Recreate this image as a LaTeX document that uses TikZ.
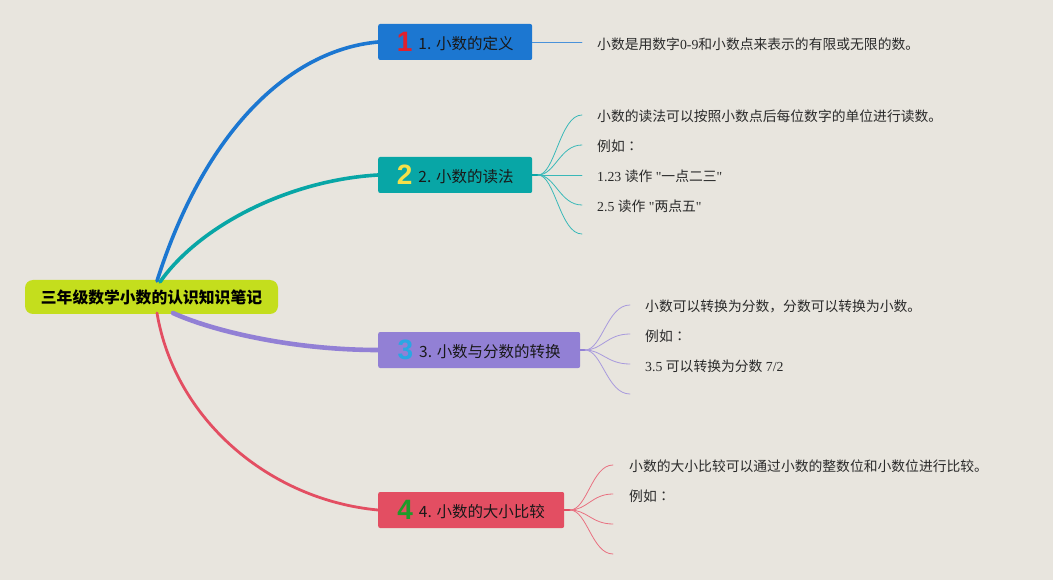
\documentclass[tikz,border=0pt]{standalone}
\usepackage{fontspec}
\setmainfont{Liberation Serif}
\newfontfamily\cjk{Noto Sans CJK SC}
\newfontfamily\cjkt{Noto Sans CJK TC}
\newfontfamily\numfont{Liberation Sans}
\definecolor{paper}{HTML}{E8E5DE}
\definecolor{rootc}{HTML}{C4DE1D}
\definecolor{ca}{HTML}{1C77D1}
\definecolor{cb}{HTML}{08A6A6}
\definecolor{cc}{HTML}{9280D5}
\definecolor{cd}{HTML}{E34E62}
\definecolor{na}{HTML}{E0212E}
\definecolor{nb}{HTML}{F5E04A}
\definecolor{nc}{HTML}{2AA7E3}
\definecolor{nd}{HTML}{1E9A2A}
\definecolor{ink}{HTML}{2A2A2A}
\newcommand{\bignum}[2]{\raisebox{-2pt}{\numfont\bfseries\fontsize{28}{28}\selectfont\color{#1}#2}\hspace{6pt}}
\newcommand{\eg}{{\cjk 例如}{\cjkt ：}}
\newcommand{\qt}{\textquotedbl}
\begin{document}
\begin{tikzpicture}[x=1pt,y=-1pt, line join=round, line cap=round,
		topic/.style={fill=rootc, rounded corners=8pt, minimum width=253pt, minimum height=34pt, inner sep=0pt, font=\cjk\bfseries\fontsize{15.8}{18}\selectfont, text=black},
		subtopic/.style={anchor=west, rounded corners=2pt, minimum height=36pt, inner sep=0pt, font=\cjk\fontsize{15.5}{18}\selectfont, text=black!90},
		note/.style={anchor=west, inner sep=0pt, font=\fontsize{13.8}{16}\selectfont, text=ink},
		twig/.style={line width=0.8pt}]
					\fill[paper] (0,0) rectangle (1053,580);
					\useasboundingbox (0,0) rectangle (1053,580);
					% main topic and the four sub topics
					\node[topic] (root) at (151.5,297) {三年级数学小数的认识知识笔记};
					\node[subtopic, fill=ca, minimum width=154pt] (b1) at (378,42) {\bignum{na}{1}1. 小数的定义};
					\node[subtopic, fill=cb, minimum width=154pt] (b2) at (378,175) {\bignum{nb}{2}2. 小数的读法};
					\node[subtopic, fill=cc, minimum width=202pt] (b3) at (378,350) {\bignum{nc}{3}3. 小数与分数的转换};
					\node[subtopic, fill=cd, minimum width=186pt] (b4) at (378,510) {\bignum{nd}{4}4. 小数的大小比较};
					\coordinate (r1) at (157,281);
					\coordinate (r2) at (160,282);
					\coordinate (r3) at (173,313);
					\coordinate (r4) at (157,313);
					\draw[ca, line width=3.6pt] (r1) .. controls (205,130) and (290,50) .. (b1.west);
					\draw[cb, line width=3.6pt] (r2) .. controls (200,225) and (290,180) .. (b2.west);
					\draw[cc, line width=4.6pt] (r3) .. controls (210,330) and (290,350) .. (b3.west);
					\draw[cd, line width=2.8pt] (r4) .. controls (175,420) and (270,500) .. (b4.west);
					% 1
					\coordinate (f11) at (582,42);
					\draw[twig, ca!80!white] (b1.east) -- (f11);
					\node[note] (t11) at (597,44) {{\cjk 小数是用数字}0-9{\cjk 和小数点来表示的有限或无限的数。}};
					% 2
					\coordinate (o2) at (538,175);
					\coordinate (f21) at (582,115);
					\coordinate (f22) at (582,145);
					\coordinate (f23) at (582,175);
					\coordinate (f24) at (582,205);
					\coordinate (f25) at (582,234);
					\draw[cb, line width=2.5pt] (b2.east) -- (o2);
					\draw[twig, cb!80!white] (o2) .. controls (555,175) and (560,115) .. (f21);
					\draw[twig, cb!80!white] (o2) .. controls (555,175) and (560,145) .. (f22);
					\draw[twig, cb!80!white] (o2) -- (f23);
					\draw[twig, cb!80!white] (o2) .. controls (555,175) and (560,205) .. (f24);
					\draw[twig, cb!80!white] (o2) .. controls (555,175) and (560,234) .. (f25);
					\node[note] (t21) at (597,116) {\cjk 小数的读法可以按照小数点后每位数字的单位进行读数。};
					\node[note] (t22) at (597,146) {\eg};
					\node[note] (t23) at (597,176) {1.23 {\cjk 读作} \qt{\cjk 一点二三}\qt};
					\node[note] (t24) at (597,206) {2.5 {\cjk 读作} \qt{\cjk 两点五}\qt};
					% 3
					\coordinate (o3) at (585,350);
					\coordinate (f31) at (630,305);
					\coordinate (f32) at (630,334);
					\coordinate (f33) at (630,364);
					\coordinate (f34) at (630,394);
					\draw[cc, line width=2.5pt] (b3.east) -- (o3);
					\draw[twig, cc!80!white] (o3) .. controls (602,350) and (607,305) .. (f31);
					\draw[twig, cc!80!white] (o3) .. controls (602,350) and (607,334) .. (f32);
					\draw[twig, cc!80!white] (o3) .. controls (602,350) and (607,364) .. (f33);
					\draw[twig, cc!80!white] (o3) .. controls (602,350) and (607,394) .. (f34);
					\node[note] (t31) at (645,306) {\cjk 小数可以转换为分数，分数可以转换为小数。};
					\node[note] (t32) at (645,336) {\eg};
					\node[note] (t33) at (645,366) {3.5 {\cjk 可以转换为分数} 7/2};
					% 4
					\coordinate (o4) at (570,510);
					\coordinate (f41) at (613,465);
					\coordinate (f42) at (613,494);
					\coordinate (f43) at (613,524);
					\coordinate (f44) at (613,554);
					\draw[cd, line width=2.5pt] (b4.east) -- (o4);
					\draw[twig, cd!80!white] (o4) .. controls (587,510) and (592,465) .. (f41);
					\draw[twig, cd!80!white] (o4) .. controls (587,510) and (592,494) .. (f42);
					\draw[twig, cd!80!white] (o4) .. controls (587,510) and (592,524) .. (f43);
					\draw[twig, cd!80!white] (o4) .. controls (587,510) and (592,554) .. (f44);
					\node[note] (t41) at (629,466) {\cjk 小数的大小比较可以通过小数的整数位和小数位进行比较。};
					\node[note] (t42) at (629,496) {\eg};
			\end{tikzpicture}
\end{document}
